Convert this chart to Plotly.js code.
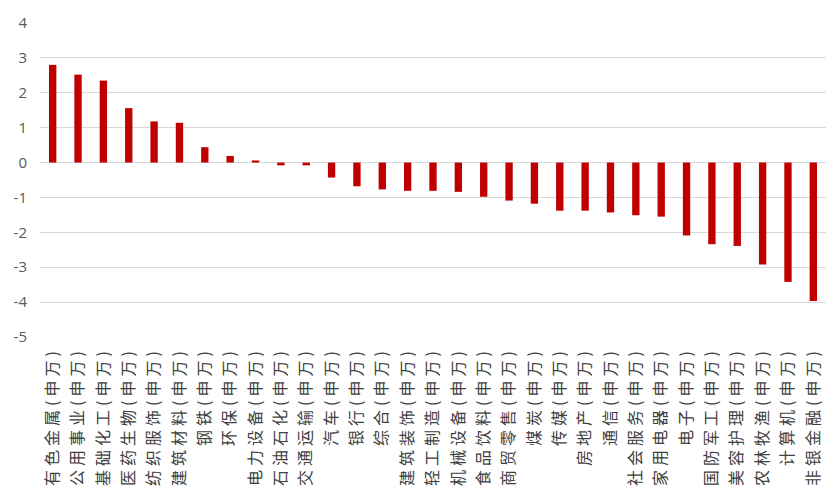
<!DOCTYPE html>
<html>
<head>
<meta charset="utf-8">
<script src="https://cdn.plot.ly/plotly-3.0.1.min.js"></script>
<style>
  html, body { margin: 0; padding: 0; background: #ffffff; }
  #chart { width: 826px; height: 494px; }
  .xtick text { letter-spacing: 4px; }
</style>
</head>
<body>
<div id="chart"></div>
<script>
const industries = ["有色金属","公用事业","基础化工","医药生物","纺织服饰","建筑材料","钢铁","环保","电力设备","石油石化","交通运输","汽车","银行","综合","建筑装饰","轻工制造","机械设备","食品饮料","商贸零售","煤炭","传媒","房地产","通信","社会服务","家用电器","电子","国防军工","美容护理","农林牧渔","计算机","非银金融"];
const suffix = "(申万)";
const values = [2.80, 2.52, 2.35, 1.56, 1.18, 1.14, 0.44, 0.19, 0.06, -0.08, -0.08, -0.43, -0.68, -0.77, -0.81, -0.81, -0.84, -0.98, -1.09, -1.18, -1.38, -1.38, -1.43, -1.51, -1.55, -2.09, -2.34, -2.39, -2.92, -3.42, -3.97];
const yTicks = [-5, -4, -3, -2, -1, 0, 1, 2, 3, 4];

const categories = industries.map(n => n + suffix);

const trace = {
  type: "bar",
  x: categories,
  y: values,
  marker: { color: "#c00000" },
  hoverinfo: "x+y"
};

const layout = {
  width: 826,
  height: 494,
  margin: { l: 40, r: 0, t: 23, b: 157 },
  paper_bgcolor: "#ffffff",
  plot_bgcolor: "#ffffff",
  showlegend: false,
  bargap: 0.71,
  xaxis: {
    type: "category",
    range: [-0.5, 30.5],
    tickangle: -90,
    showgrid: false,
    showline: false,
    ticks: "",
    ticklabelstandoff: 6,
    tickfont: { family: "Noto Sans CJK SC", size: 16, color: "#404040" }
  },
  yaxis: {
    range: [-5, 4],
    tickvals: yTicks,
    ticktext: yTicks.map(String),
    showgrid: true,
    gridcolor: "#d9d9d9",
    gridwidth: 1,
    zeroline: true,
    zerolinecolor: "#d9d9d9",
    zerolinewidth: 1,
    showline: false,
    ticks: "",
    ticklabelstandoff: 12,
    tickfont: { family: "Open Sans", size: 15, color: "#595959" }
  }
};

Plotly.newPlot("chart", [trace], layout, { displayModeBar: false, staticPlot: true });
</script>
</body>
</html>
